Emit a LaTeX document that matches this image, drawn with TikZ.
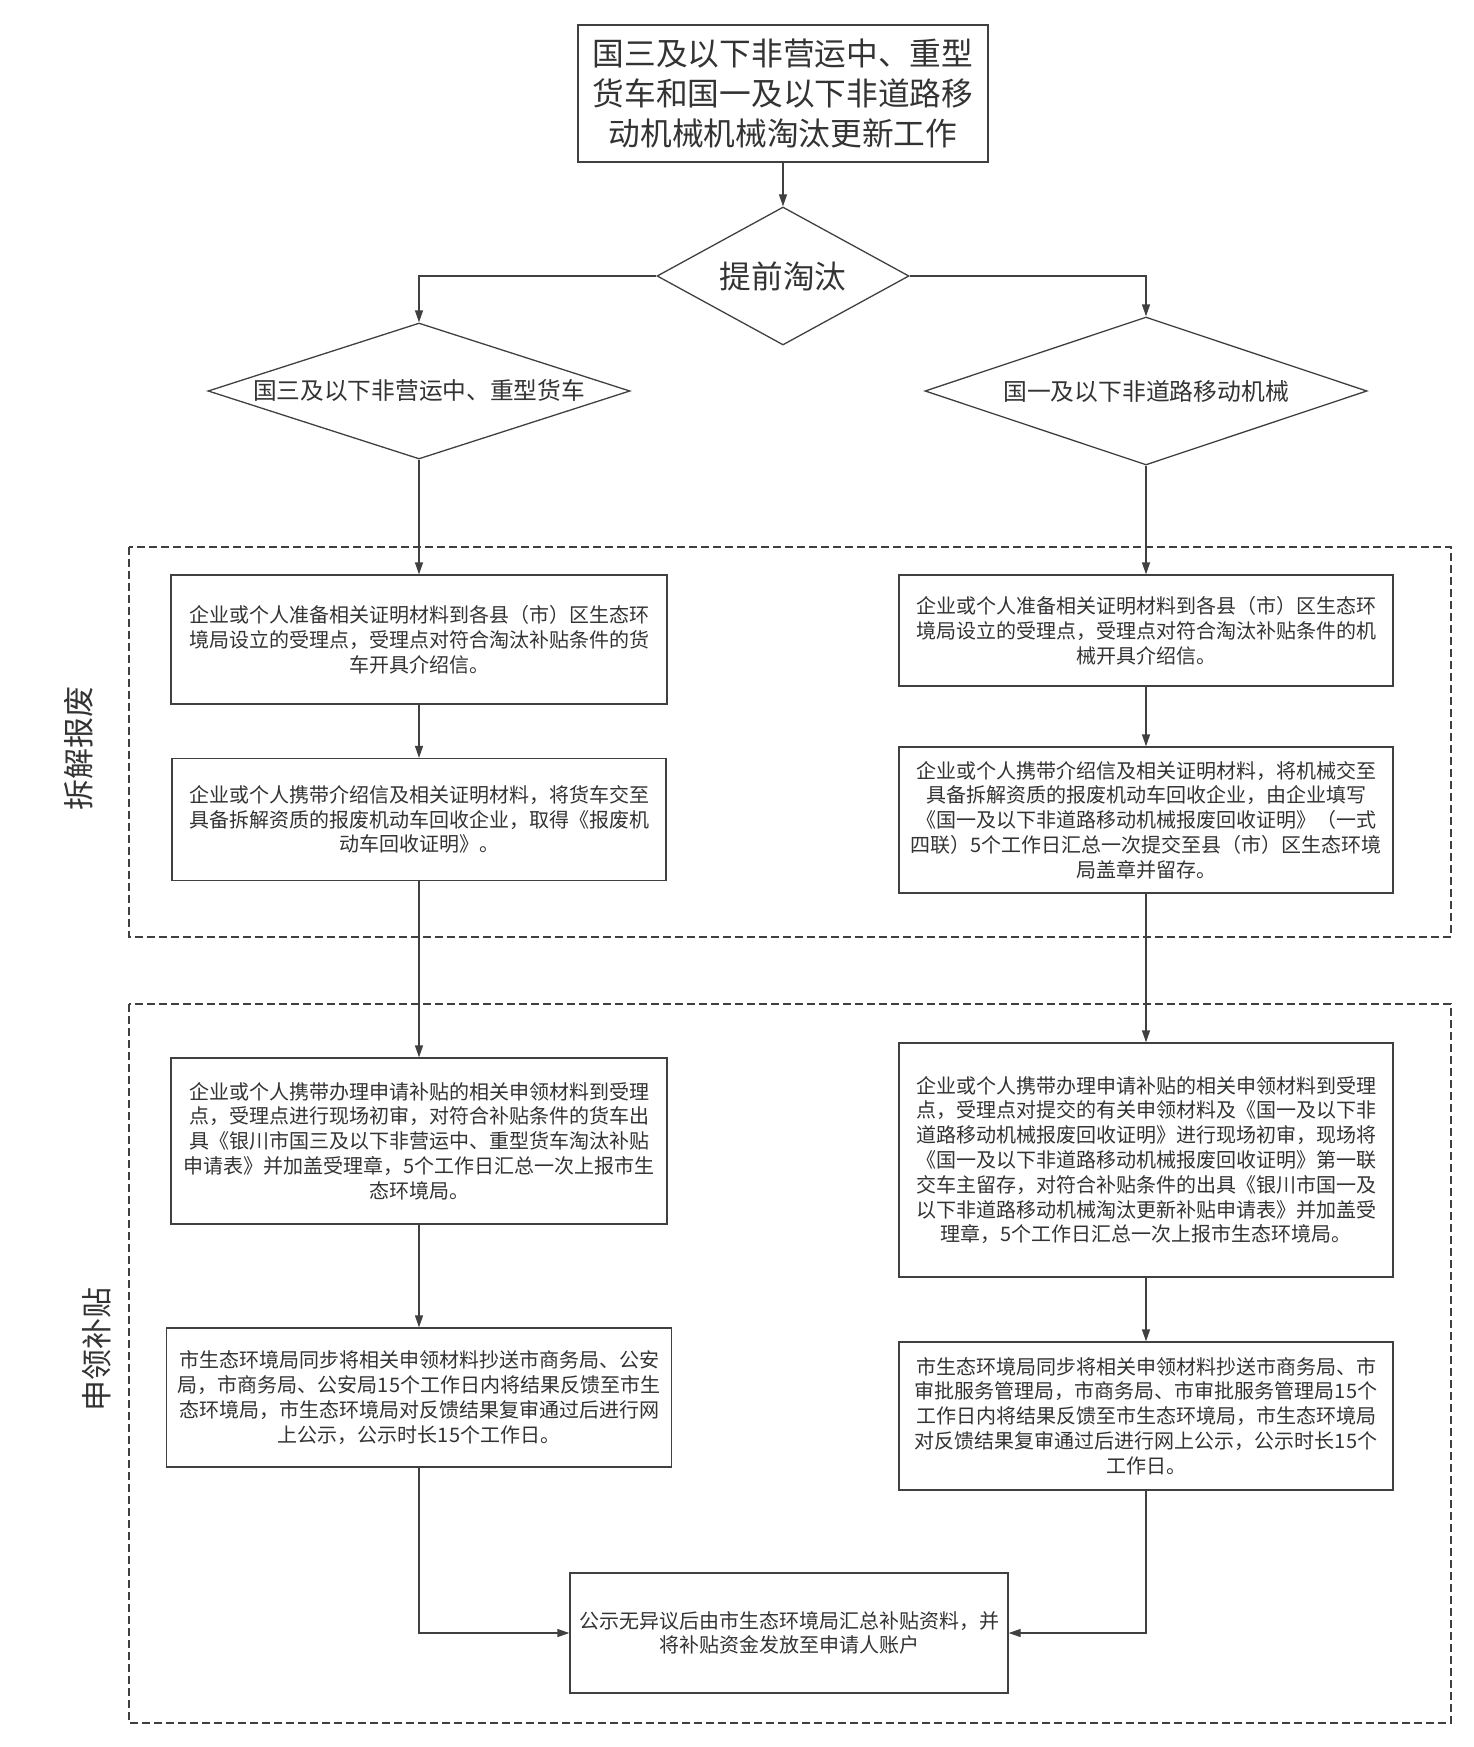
\documentclass[tikz,border=0pt]{standalone}
\usepackage{fontspec}
\setmainfont{Noto Sans CJK SC}
\usepackage{tikz}
\usetikzlibrary{shapes.geometric,arrows.meta}
\definecolor{linegray}{RGB}{64,64,64}
\definecolor{textgray}{RGB}{51,51,51}
\begin{document}
\begin{tikzpicture}[x=1pt,y=-1pt,
  procbox/.style={draw=linegray,line width=1.3pt,align=center,inner sep=0pt,text=textgray,font={\fontsize{20}{24.8}\selectfont}},
  choice/.style={draw=linegray,line width=1.3pt,diamond,inner sep=0pt,align=center,text=textgray},
  stage/.style={draw=linegray,line width=1.2pt,dash pattern=on 8pt off 4pt},
  flow/.style={draw=linegray,line width=1.3pt,-{Triangle[length=12pt,width=8pt]}},
  sidelabel/.style={rotate=90,text=textgray,font={\fontsize{31}{36}\selectfont}}]
\useasboundingbox (0,0) rectangle (1473,1747);
\draw[stage] (129,547) rectangle (1451,937);
\draw[stage] (129,1004) rectangle (1451,1723);
\node[sidelabel] (lab1) at (79,748) {拆解报废};
\node[sidelabel] (lab2) at (97,1349) {申领补贴};
\node[procbox,minimum width=410pt,minimum height=137pt,font={\fontsize{31.7}{39.7}\selectfont}] (top) at (783,93.5) {国三及以下非营运中、重型\\货车和国一及以下非道路移\\动机械机械淘汰更新工作};
\node[choice,aspect=1.83,minimum width=252pt,minimum height=138pt,font={\fontsize{31.6}{36}\selectfont}] (d1) at (783,276) {提前淘汰};
\node[choice,aspect=3.1,minimum width=422pt,minimum height=136pt,font={\fontsize{23.7}{28}\selectfont}] (d2) at (419,391) {国三及以下非营运中、重型货车};
\node[choice,aspect=2.99,minimum width=442pt,minimum height=148pt,font={\fontsize{23.8}{28}\selectfont}] (d3) at (1146,391) {国一及以下非道路移动机械};
\node[procbox,minimum width=496pt,minimum height=129pt] (a1) at (419,639.5) {企业或个人准备相关证明材料到各县（市）区生态环\\境局设立的受理点，受理点对符合淘汰补贴条件的货\\车开具介绍信。};
\node[procbox,minimum width=494pt,minimum height=122pt] (a2) at (419,819.5) {企业或个人携带介绍信及相关证明材料，将货车交至\\具备拆解资质的报废机动车回收企业，取得《报废机\\动车回收证明》。};
\node[procbox,minimum width=496pt,minimum height=166pt] (a3) at (419,1141) {企业或个人携带办理申请补贴的相关申领材料到受理\\点，受理点进行现场初审，对符合补贴条件的货车出\\具《银川市国三及以下非营运中、重型货车淘汰补贴\\申请表》并加盖受理章，5个工作日汇总一次上报市生\\态环境局。};
\node[procbox,minimum width=505pt,minimum height=139pt] (a4) at (419,1397.5) {市生态环境局同步将相关申领材料抄送市商务局、公安\\局，市商务局、公安局15个工作日内将结果反馈至市生\\态环境局，市生态环境局对反馈结果复审通过后进行网\\上公示，公示时长15个工作日。};
\node[procbox,minimum width=494pt,minimum height=111pt] (b1) at (1146,630.5) {企业或个人准备相关证明材料到各县（市）区生态环\\境局设立的受理点，受理点对符合淘汰补贴条件的机\\械开具介绍信。};
\node[procbox,minimum width=494pt,minimum height=146pt] (b2) at (1146,820) {企业或个人携带介绍信及相关证明材料，将机械交至\\具备拆解资质的报废机动车回收企业，由企业填写\\《国一及以下非道路移动机械报废回收证明》（一式\\四联）5个工作日汇总一次提交至县（市）区生态环境\\局盖章并留存。};
\node[procbox,minimum width=494pt,minimum height=234pt] (b3) at (1146,1160) {企业或个人携带办理申请补贴的相关申领材料到受理\\点，受理点对提交的有关申领材料及《国一及以下非\\道路移动机械报废回收证明》进行现场初审，现场将\\《国一及以下非道路移动机械报废回收证明》第一联\\交车主留存，对符合补贴条件的出具《银川市国一及\\以下非道路移动机械淘汰更新补贴申请表》并加盖受\\理章，5个工作日汇总一次上报市生态环境局。};
\node[procbox,minimum width=494pt,minimum height=148pt] (b4) at (1146,1416) {市生态环境局同步将相关申领材料抄送市商务局、市\\审批服务管理局，市商务局、市审批服务管理局15个\\工作日内将结果反馈至市生态环境局，市生态环境局\\对反馈结果复审通过后进行网上公示，公示时长15个\\工作日。};
\node[procbox,minimum width=438pt,minimum height=120pt,font={\fontsize{20}{24}\selectfont}] (fin) at (789,1633) {公示无异议后由市生态环境局汇总补贴资料，并\\将补贴资金发放至申请人账户};
\draw[flow] (top) -- (d1);
\draw[flow] (d1.west) -| (d2.north);
\draw[flow] (d1.east) -| (d3.north);
\draw[flow] (d2) -- (a1);
\draw[flow] (a1) -- (a2);
\draw[flow] (a2) -- (a3);
\draw[flow] (a3) -- (a4);
\draw[flow] (a4.south) |- (fin.west);
\draw[flow] (d3) -- (b1);
\draw[flow] (b1) -- (b2);
\draw[flow] (b2) -- (b3);
\draw[flow] (b3) -- (b4);
\draw[flow] (b4.south) |- (fin.east);
\end{tikzpicture}
\end{document}
